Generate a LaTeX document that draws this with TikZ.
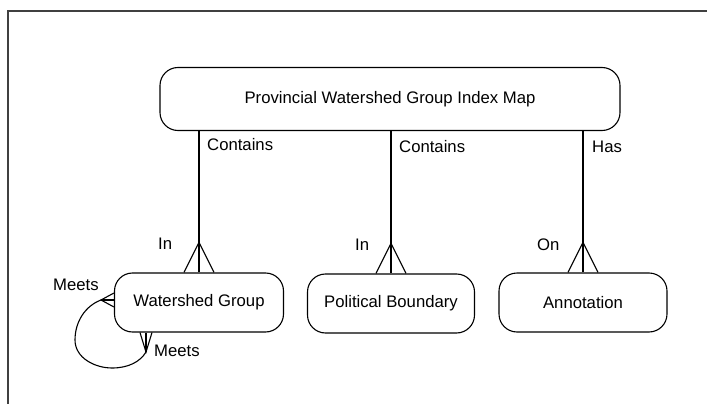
\documentclass[tikz,border=0pt]{standalone}
\usepackage{fontspec}
\setmainfont{Liberation Sans}
\usetikzlibrary{calc}
\begin{document}
\begin{tikzpicture}[x=1pt,y=-1pt,
  entity/.style={draw, rounded corners=18pt, line width=1.1pt, inner sep=0pt,
    font=\fontsize{16.7}{19}\selectfont},
  rel/.style={line width=1.1pt},
  lbl/.style={anchor=west, inner sep=0pt, font=\fontsize{16.7}{19}\selectfont}]
\useasboundingbox (0,0) rectangle (707,404);
% page frame
\draw[gray!50!black, line width=1.8pt] (8,404) -- (8,11) -- (707,11);

% entities
\node[entity, minimum width=460pt, minimum height=63pt] (map) at (390,99)
  {Provincial Watershed Group Index Map};
\node[entity, minimum width=169pt, minimum height=59pt] (wg) at (199,302.5)
  {Watershed Group};
\node[entity, minimum width=167pt, minimum height=59pt] (pb) at (391,303.5)
  {Political Boundary};
\node[entity, minimum width=168pt, minimum height=59pt] (ann) at (583,302.5)
  {Annotation};

% one-to-many relationships with crow's feet
\foreach \e in {wg,pb,ann}{
  \draw[rel] (\e.north) -- (\e.north |- map.south);
  \draw[rel] ($(\e.north)+(-15,0)$) -- ($(\e.north)+(0,-30)$) -- ($(\e.north)+(15,0)$);
}

% relationship labels
\node[lbl] (c1) at (207,145) {Contains};
\node[lbl] (c2) at (399,147) {Contains};
\node[lbl] (has) at (592,147) {Has};
\node[lbl] (in1) at (158,244) {In};
\node[lbl] (in2) at (355,245) {In};
\node[lbl] (on) at (537,245) {On};

% recursive "Meets" relationship
\coordinate (la) at (101,300);
\coordinate (ba) at (146,352);
\draw[rel] (la) -- (wg.west |- la);
\draw[rel] ($(wg.west |- la)+(0,-7)$) -- (la) -- ($(wg.west |- la)+(0,7)$);
\draw[rel] (ba) -- (ba |- wg.south);
\draw[rel] ($(ba |- wg.south)+(-6,0)$) -- (ba) -- ($(ba |- wg.south)+(6,0)$);
\draw[rel] (la) .. controls (85,306) and (75,322) .. (75,340)
  .. controls (75,358) and (95,368) .. (112,368)
  .. controls (128,368) and (140,362) .. (ba);
\node[lbl] (m1) at (53,285) {Meets};
\node[lbl] (m2) at (154,351) {Meets};
\end{tikzpicture}
\end{document}
